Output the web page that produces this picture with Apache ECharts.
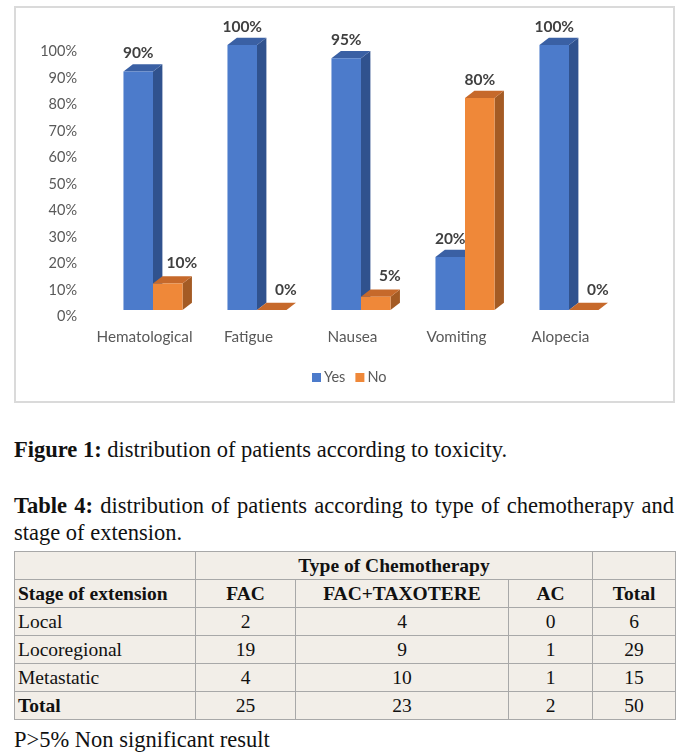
<!DOCTYPE html>
<html>
<head>
<meta charset="utf-8">
<script src="https://cdn.jsdelivr.net/npm/echarts@6/dist/echarts.min.js"></script>
<style>
  html, body { margin:0; padding:0; background:#fff; width:685px; height:752px; overflow:hidden; }
  #box { position:absolute; left:14px; top:6px; width:661px; height:397px; box-sizing:border-box; border:2px solid #dadada; }
  #chart { position:absolute; left:0; top:0; width:685px; height:410px; }
  .serif { font-family:"Liberation Serif","Times New Roman",serif; color:#111; position:absolute; left:14px; font-size:22.5px; line-height:26px; white-space:nowrap; }
  #cap1 { top:437px; }
  #cap2 { top:493px; width:660px; text-align:justify; text-align-last:justify; }
  #cap3 { top:520px; }
  #note { top:727px; }
  table { position:absolute; left:14px; top:551px; border-collapse:collapse; font-family:"Liberation Serif","Times New Roman",serif; font-size:19.5px; color:#111; background:#f2eee8; }
  td { border:1.5px solid #a8a8a8; height:27px; padding:0 3px; line-height:26px; text-align:center; white-space:nowrap; }
  td.l { text-align:left; }
  b { font-weight:bold; }
</style>
</head>
<body>
<div id="box"></div>
<div id="chart"></div>
<div class="serif" id="cap1"><b>Figure 1:</b> distribution of patients according to toxicity.</div>
<div class="serif" id="cap2"><b>Table 4:</b> distribution of patients according to type of chemotherapy and</div>
<div class="serif" id="cap3">stage of extension.</div>
<table id="tbl"></table>
<div class="serif" id="note">P&gt;5% Non significant result</div>
<script>
// ---- Chart data ----
var categories = ['Hematological', 'Fatigue', 'Nausea', 'Vomiting', 'Alopecia'];
var seriesNames = ['Yes', 'No'];
var yesValues = [0.90, 1.00, 0.95, 0.20, 1.00];
var noValues  = [0.10, 0.00, 0.05, 0.80, 0.00];
var yTicks = [0, 0.1, 0.2, 0.3, 0.4, 0.5, 0.6, 0.7, 0.8, 0.9, 1.0];

// ---- Table data ----
var tableStages = ['Local', 'Locoregional', 'Metastatic'];
var tableCols = ['FAC', 'FAC+TAXOTERE', 'AC', 'Total'];
var fac = [2, 19, 4];
var facTax = [4, 9, 10];
var ac = [0, 1, 1];
var rowTotals = [6, 29, 15];
var colTotals = [25, 23, 2, 50];

// ---- build table ----
(function(){
  var widths = [181, 100, 213, 84, 83];
  var h = '<tr><td class="l" style="width:' + (widths[0]-7) + 'px"></td><td colspan="3"><b>Type of Chemotherapy</b></td><td style="width:' + (widths[4]-7) + 'px"></td></tr>';
  h += '<tr><td class="l"><b>Stage of extension</b></td>';
  for (var c = 0; c < tableCols.length; c++) h += '<td style="width:' + (widths[c+1]-7) + 'px"><b>' + tableCols[c] + '</b></td>';
  h += '</tr>';
  for (var r = 0; r < tableStages.length; r++) {
    h += '<tr><td class="l">' + tableStages[r] + '</td><td>' + fac[r] + '</td><td>' + facTax[r] + '</td><td>' + ac[r] + '</td><td>' + rowTotals[r] + '</td></tr>';
  }
  h += '<tr><td class="l"><b>Total</b></td>';
  for (var k = 0; k < colTotals.length; k++) h += '<td>' + colTotals[k] + '</td>';
  h += '</tr>';
  document.getElementById('tbl').innerHTML = h;
})();

// ---- chart ----
var palette = [
  { front: '#4c7bcb', side: '#30528e', top: '#3a60a4' },
  { front: '#ef8839', side: '#a45b24', top: '#c6692b' }
];
var DX = 9.4, DY = 7.3, BAR_FRAC = 0.284;

function makeRender(si) {
  return function (params, api) {
    var ci = api.value(0), v = api.value(1);
    var base = api.coord([ci, 0]);
    var topPt = api.coord([ci, v]);
    var band = api.size([1, 0])[0];
    var bw = band * BAR_FRAC;
    var x0 = base[0] + (si === 0 ? -bw : 0);
    var x1 = x0 + bw;
    var yb = base[1], yt = topPt[1];
    var c = palette[si];
    var small = v < 0.15;
    var lx = (x0 + x1) / 2 + (small ? 14 : 0);
    var ly = yt - (small ? 20.5 : 18.5);
    return {
      type: 'group',
      children: [
        { type: 'polygon', shape: { points: [[x1, yt], [x1 + DX, yt - DY], [x1 + DX, yb - DY], [x1, yb]] }, style: { fill: c.side } },
        { type: 'polygon', shape: { points: [[x0, yt], [x0 + DX, yt - DY], [x1 + DX, yt - DY], [x1, yt]] }, style: { fill: c.top } },
        { type: 'rect', shape: { x: x0, y: yt, width: bw, height: yb - yt }, style: { fill: c.front } },
        { type: 'text', x: lx, y: ly, style: { text: Math.round(v * 100) + '%', fill: '#404040', font: 'bold 15.5px Lato, "Open Sans", sans-serif', align: 'center', verticalAlign: 'middle' } }
      ]
    };
  };
}

function toData(arr) { return arr.map(function (v, i) { return [i, v]; }); }

var chart = echarts.init(document.getElementById('chart'), null, { renderer: 'canvas' });
chart.setOption({
  animation: false,
  textStyle: { fontFamily: 'Lato, "Open Sans", sans-serif' },
  grid: { left: 101, width: 520, top: 45, height: 265, containLabel: false },
  legend: {
    data: [{ name: seriesNames[0], icon: 'rect' }, { name: seriesNames[1], icon: 'rect' }],
    left: 307, top: 365, itemWidth: 9, itemHeight: 9, itemGap: 10,
    textStyle: { fontSize: 14.5, color: '#595959', padding: [0, 0, 0, -2] }
  },
  xAxis: {
    type: 'category', data: categories,
    axisLine: { show: false }, axisTick: { show: false },
    axisLabel: { interval: 0, fontSize: 15.3, color: '#595959', margin: 20, padding: [0, 17, 0, 0] }
  },
  yAxis: {
    type: 'value', min: 0, max: 1, interval: 0.1,
    splitLine: { show: false }, axisLine: { show: false }, axisTick: { show: false },
    axisLabel: { fontSize: 14.5, color: '#595959', margin: 24, verticalAlign: 'top', lineHeight: 13,
      formatter: function (v) { return Math.round(v * 100) + '%'; } }
  },
  series: [
    { name: seriesNames[0], type: 'custom', renderItem: makeRender(0), itemStyle: { color: palette[0].front }, encode: { x: 0, y: 1 }, data: toData(yesValues), z: 2 },
    { name: seriesNames[1], type: 'custom', renderItem: makeRender(1), itemStyle: { color: palette[1].front }, encode: { x: 0, y: 1 }, data: toData(noValues), z: 3 }
  ]
});
</script>
</body>
</html>
